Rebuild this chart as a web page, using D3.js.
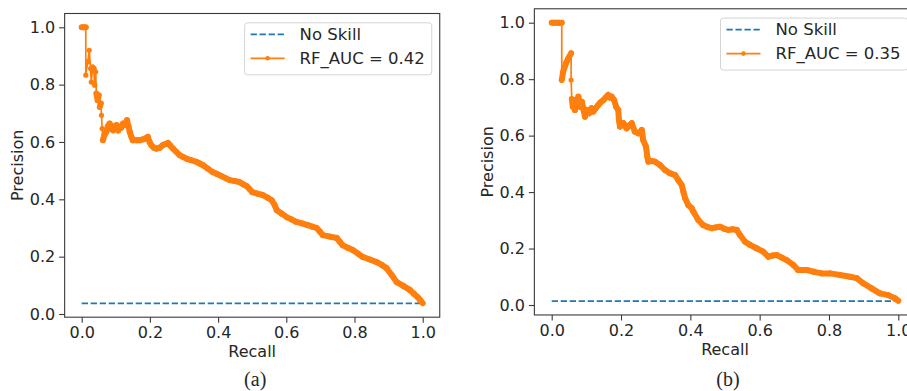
<!DOCTYPE html>
<html>
<head>
<meta charset="utf-8">
<script src="https://cdn.jsdelivr.net/npm/d3@7"></script>
<style>
body{margin:0;background:#fff;}
svg text{font-family:"DejaVu Sans",sans-serif;fill:#262626;}
</style>
</head>
<body>
<svg id="chart" width="907" height="391"></svg>
<script>
// ---- data ----
const recallA = [0.000,0.006,0.012,0.012,0.018,0.022,0.026,0.028,0.032,0.035,0.038,0.041,0.043,0.047,0.050,0.053,0.056,0.058,0.060,0.062,
    0.067,0.072,0.077,0.082,0.087,0.092,0.097,0.102,0.107,0.111,0.116,0.121,0.127,0.133,0.137,0.141,0.146,0.150,0.160,0.170,
    0.182,0.194,0.199,0.204,0.212,0.219,0.229,0.238,0.246,0.253,0.260,0.268,0.278,0.287,0.297,0.307,0.320,0.336,0.346,0.356,
    0.370,0.384,0.397,0.410,0.422,0.434,0.449,0.463,0.474,0.484,0.492,0.500,0.515,0.531,0.545,0.557,0.566,0.572,0.587,0.601,
    0.615,0.630,0.646,0.663,0.676,0.689,0.698,0.707,0.728,0.748,0.757,0.765,0.780,0.795,0.810,0.824,0.845,0.865,0.880,0.894,
    0.909,0.924,0.943,0.962,0.975,0.985,0.993,1.000];
const precisionA = [1.000,1.000,1.000,0.833,0.880,0.920,0.856,0.809,0.860,0.856,0.798,0.845,0.769,0.745,0.763,0.722,0.735,0.693,0.647,0.606,
    0.625,0.635,0.655,0.664,0.645,0.641,0.655,0.659,0.640,0.653,0.650,0.664,0.660,0.676,0.655,0.635,0.617,0.606,0.606,0.606,
    0.610,0.618,0.600,0.589,0.580,0.577,0.580,0.589,0.593,0.597,0.587,0.577,0.565,0.554,0.548,0.542,0.537,0.531,0.525,0.519,
    0.507,0.495,0.488,0.481,0.474,0.467,0.464,0.460,0.452,0.446,0.436,0.425,0.420,0.415,0.406,0.397,0.380,0.362,0.350,0.338,
    0.330,0.321,0.316,0.310,0.305,0.300,0.288,0.275,0.270,0.265,0.252,0.240,0.231,0.223,0.211,0.199,0.190,0.181,0.171,0.160,
    0.136,0.111,0.098,0.084,0.070,0.059,0.048,0.038];

const recallB = [0.000,0.007,0.014,0.022,0.029,0.029,0.033,0.041,0.048,0.056,0.056,0.058,0.061,0.065,0.067,0.072,0.077,0.082,0.087,0.092,
    0.096,0.101,0.108,0.115,0.120,0.127,0.134,0.141,0.149,0.156,0.163,0.168,0.173,0.180,0.186,0.192,0.194,0.197,0.207,0.216,
    0.224,0.231,0.240,0.250,0.260,0.264,0.272,0.276,0.279,0.288,0.298,0.312,0.327,0.341,0.356,0.365,0.375,0.380,0.385,0.394,
    0.404,0.409,0.423,0.437,0.450,0.462,0.474,0.486,0.498,0.510,0.522,0.534,0.543,0.558,0.572,0.591,0.610,0.625,0.637,0.649,
    0.664,0.678,0.697,0.711,0.724,0.736,0.755,0.779,0.803,0.832,0.861,0.880,0.899,0.923,0.947,0.971,0.990,1.000];
const precisionB = [1.000,1.000,1.000,1.000,1.000,0.797,0.826,0.856,0.874,0.892,0.797,0.730,0.702,0.726,0.691,0.715,0.738,0.702,0.720,0.690,
    0.667,0.691,0.679,0.697,0.685,0.697,0.708,0.718,0.726,0.735,0.744,0.735,0.738,0.726,0.702,0.691,0.655,0.632,0.644,0.626,
    0.636,0.644,0.614,0.608,0.620,0.584,0.561,0.525,0.508,0.510,0.508,0.496,0.478,0.467,0.460,0.443,0.425,0.401,0.378,0.354,
    0.343,0.330,0.301,0.283,0.276,0.272,0.275,0.277,0.270,0.266,0.268,0.266,0.248,0.224,0.213,0.201,0.189,0.171,0.175,0.177,
    0.168,0.159,0.142,0.124,0.124,0.124,0.118,0.112,0.112,0.106,0.100,0.095,0.077,0.059,0.041,0.035,0.024,0.015];

const noSkillA = 0.037;
const noSkillB = 0.014;
const curveLabels = ["RF_AUC = 0.42", "RF_AUC = 0.35"];
const captions = ["(a)", "(b)"];
const tickValues = [0, 0.2, 0.4, 0.6, 0.8, 1.0];

const blue = "#1f77b4";
const orange = "#ff7f0e";
const spineColor = "#3a3a3a";
const fontSize = 16;

const svg = d3.select("#chart");

// pixel position of value 0 and 1 on each panel
const panels = [
    {recall: recallA, precision: precisionA, noSkill: noSkillA, label: curveLabels[0], caption: captions[0],
        xr: [81.7, 422.7], yr: [314, 27.3]},
    {recall: recallB, precision: precisionB, noSkill: noSkillB, label: curveLabels[1], caption: captions[1],
        xr: [551.7, 898.3], yr: [305, 22.7]}
];

panels.forEach(drawPanel);

function drawPanel(p) {
    const pts = p.recall.map((r, i) => [r, p.precision[i]]);
    const yLo = Math.min(p.noSkill, d3.min(p.precision));
    const yHi = Math.max(p.noSkill, d3.max(p.precision));
    const pad = (yHi - yLo) * 0.05;

    const x = d3.scaleLinear().domain([0, 1]).range(p.xr);
    const y = d3.scaleLinear().domain([0, 1]).range(p.yr);
    const left = x(-0.05), right = x(1.05);
    const top = y(yHi + pad), bottom = y(yLo - pad);

    const g = svg.append("g");

    // no skill
    g.append("line")
        .attr("x1", x(0)).attr("x2", x(1))
        .attr("y1", y(p.noSkill)).attr("y2", y(p.noSkill))
        .attr("stroke", blue)
        .attr("stroke-width", 1.8)
        .attr("stroke-dasharray", "6.3,2.7");

    // PR curve: thin line, then the dense-marker band, then markers
    const line = d3.line().x(d => x(d[0])).y(d => y(d[1]));
    g.append("path")
        .attr("d", line(pts))
        .attr("fill", "none")
        .attr("stroke", orange)
        .attr("stroke-width", 1.7);

    const band = d3.pairs(pts).filter(([a, b]) => Math.hypot(x(b[0]) - x(a[0]), y(b[1]) - y(a[1])) < 11);
    g.append("g")
        .selectAll("line")
        .data(band)
        .join("line")
        .attr("x1", d => x(d[0][0])).attr("y1", d => y(d[0][1]))
        .attr("x2", d => x(d[1][0])).attr("y2", d => y(d[1][1]))
        .attr("stroke", orange)
        .attr("stroke-width", 6)
        .attr("stroke-linecap", "round");

    g.append("g")
        .selectAll("circle")
        .data(pts)
        .join("circle")
        .attr("cx", d => x(d[0]))
        .attr("cy", d => y(d[1]))
        .attr("r", 2.6)
        .attr("fill", orange);

    // frame
    g.append("rect")
        .attr("x", left).attr("y", top)
        .attr("width", right - left).attr("height", bottom - top)
        .attr("fill", "none")
        .attr("stroke", spineColor)
        .attr("stroke-width", 1.1);

    // x axis
    const xAxis = g.append("g")
        .attr("transform", `translate(0,${bottom})`)
        .call(d3.axisBottom(x).tickValues(tickValues).tickFormat(d3.format(".1f")).tickSize(5.5).tickPadding(4));
    xAxis.select(".domain").remove();
    xAxis.selectAll(".tick line").attr("stroke", spineColor).attr("stroke-width", 1.1);
    xAxis.selectAll(".tick text").attr("font-size", fontSize).attr("font-family", "DejaVu Sans").attr("fill", "#262626");

    // y axis
    const yAxis = g.append("g")
        .attr("transform", `translate(${left},0)`)
        .call(d3.axisLeft(y).tickValues(tickValues).tickFormat(d3.format(".1f")).tickSize(5.5).tickPadding(4));
    yAxis.select(".domain").remove();
    yAxis.selectAll(".tick line").attr("stroke", spineColor).attr("stroke-width", 1.1);
    yAxis.selectAll(".tick text").attr("font-size", fontSize).attr("font-family", "DejaVu Sans").attr("fill", "#262626");

    // axis titles
    g.append("text")
        .attr("x", (left + right) / 2)
        .attr("y", bottom + 40)
        .attr("text-anchor", "middle")
        .attr("font-size", fontSize)
        .text("Recall");
    g.append("text")
        .attr("transform", `translate(${left - 41.5},${(top + bottom) / 2}) rotate(-90)`)
        .attr("text-anchor", "middle")
        .attr("font-size", fontSize)
        .text("Precision");

    // caption
    g.append("text")
        .attr("x", (left + right) / 2 + 3)
        .attr("y", 386)
        .attr("text-anchor", "middle")
        .attr("font-size", 20)
        .style("font-family", "'Liberation Serif', serif")
        .text(p.caption);

    // legend
    const leg = g.append("g");
    const box = leg.append("rect")
        .attr("fill", "#fff").attr("fill-opacity", 0.8)
        .attr("stroke", "#d4d4d4").attr("stroke-width", 1)
        .attr("rx", 3);
    const t1 = leg.append("text").attr("font-size", 16.5).attr("dy", "0.35em").text("No Skill");
    const t2 = leg.append("text").attr("font-size", 16.5).attr("dy", "0.35em").text(p.label);
    const textW = Math.max(t1.node().getComputedTextLength(), t2.node().getComputedTextLength());
    const boxW = 55 + textW + 7;
    const bx = right - 8 - boxW, by = top + 9.3;
    box.attr("x", bx).attr("y", by).attr("width", boxW).attr("height", 52);
    t1.attr("x", bx + 55).attr("y", by + 11.5);
    t2.attr("x", bx + 55).attr("y", by + 35.5);
    leg.append("line")
        .attr("x1", bx + 6).attr("x2", bx + 40)
        .attr("y1", by + 11.5).attr("y2", by + 11.5)
        .attr("stroke", blue).attr("stroke-width", 1.8)
        .attr("stroke-dasharray", "6.3,2.7");
    leg.append("line")
        .attr("x1", bx + 6).attr("x2", bx + 40)
        .attr("y1", by + 35.5).attr("y2", by + 35.5)
        .attr("stroke", orange).attr("stroke-width", 1.8);
    leg.append("circle")
        .attr("cx", bx + 23).attr("cy", by + 35.5)
        .attr("r", 2.3).attr("fill", orange);
}
</script>
</body>
</html>
